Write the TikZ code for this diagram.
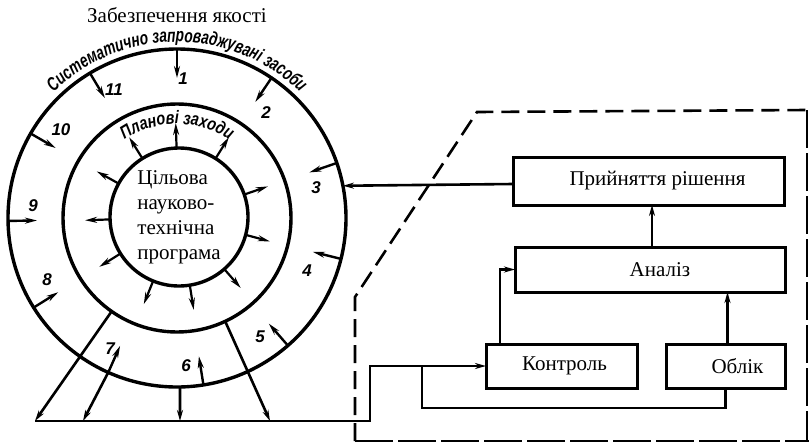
\documentclass[tikz,border=0pt]{standalone}
\usepackage{fontspec}
\setmainfont{Liberation Serif}
\newfontfamily\curvefont[FakeStretch=0.72]{Liberation Sans}
\newfontfamily\innerfont[FakeStretch=0.8]{Liberation Sans}
\newfontfamily\numfont{Liberation Sans}
\usetikzlibrary{arrows.meta,calc,decorations.text}
\begin{document}
\begin{tikzpicture}[x=1pt,y=1pt,
  ring/.style={draw, circle, line width=3.4pt, inner sep=0pt, outer sep=0pt},
  box/.style={draw, line width=3pt, inner sep=0pt, outer sep=0pt, font=\fontsize{21}{25}\selectfont},
  conn/.style={line width=2.6pt},
  tip/.style={-{Stealth[length=11pt,width=6pt]}},
  numarrow/.style={line width=2.4pt, -{Stealth[length=12pt,width=6pt]}},
  inarrow/.style={line width=2.2pt, -{Stealth[length=12pt,width=6pt]}},
  num/.style={font=\numfont\bfseries\itshape\fontsize{17}{17}\selectfont, inner sep=0pt},
  dashA/.style={line width=2.6pt, dash pattern=on 18pt off 8pt},
  dashB/.style={line width=2.6pt, dash pattern=on 38pt off 5pt},
]
\useasboundingbox (0,0) rectangle (809,-445);
\coordinate (C) at (177,-218);
\coordinate (Ci) at (179,-217);
% circles
\node[ring, minimum size=338pt] (outer) at (C) {};
\node[ring, minimum size=228pt] (mid) at (C) {};
\node[ring, minimum size=138pt, align=left, font=\fontsize{21}{25}\selectfont] (prog) at (Ci) {Цільова\\науково-\\технічна\\програма};
% title
\node[anchor=base, font=\fontsize{21}{25}\selectfont] (title) at (177,-22) {Забезпечення якості};
% curved texts
\path[decorate, decoration={text along path, text align=center,
  text={|\curvefont\bfseries\itshape\fontsize{19}{19}\selectfont|Систематично запроваджувані засоби}}]
  ($(C)+(165:176)$) arc[start angle=165, end angle=15, radius=176];
\path[decorate, decoration={text along path, text align=center,
  text={|\innerfont\bfseries\itshape\fontsize{18}{18}\selectfont|Планові заходи}}]
  ($(C)+(155:94)$) arc[start angle=155, end angle=25, radius=94];
% numbered arrows in the outer ring
\foreach \a in {90,56,19,-14,-49,-81,-114,-148,181,150,121}
  \draw[numarrow] ($(C)+(\a:169)$) -- ($(C)+(\a:140)$);
\node[num] (n1) at (183,-79) {1};
\node[num] (n2) at (266,-113) {2};
\node[num] (n3) at (316,-188) {3};
\node[num] (n4) at (307,-271) {4};
\node[num] (n5) at (260,-337) {5};
\node[num] (n6) at (186,-366) {6};
\node[num] (n7) at (110,-349) {7};
\node[num] (n8) at (47,-280) {8};
\node[num] (n9) at (33,-206) {9};
\node[num] (n10) at (61,-130) {10};
\node[num] (n11) at (114,-90) {11};
% arrows of the inner ring
\foreach \a in {92,58,19,-15,-49,-81,-112,-148,182,151,122}
  \draw[inarrow] ($(Ci)+(\a:69)$) -- ($(Ci)+(\a:94)$);
% boxes
\node[box, minimum width=271pt, minimum height=48pt] (prin) at (648.5,-181) {\hspace*{18pt}Прийняття рішення};
\node[box, minimum width=270pt, minimum height=45pt] (anal) at (650,-269.5) {\hspace*{20pt}Аналіз};
\node[box, minimum width=151pt, minimum height=44pt] (kontr) at (561.5,-366) {\hspace*{6pt}Контроль};
\node[box, minimum width=119pt, minimum height=44pt] (oblik) at (725.5,-366) {\hspace*{24pt}Облік};
% base line coordinates
\coordinate (b1) at (35,-421);
\coordinate (b2) at (83,-421);
\coordinate (b3) at (180,-421);
\coordinate (b4) at (270,-421);
\coordinate (s1) at (370,-421);
\coordinate (j) at (422,-366);
% lines from circles down to the base line
\draw[conn,tip] (mid.-125) -- (b1);
\draw[conn,tip] (outer.-114) -- (b2);
\draw[conn,tip] (outer.-89) -- (b3);
\draw[conn,tip] (mid.-65) -- (b4);
% base line to Контроль
\draw[conn,tip] (b1) -- (s1) |- (kontr.west);
\draw[conn] (oblik.south) -- ++(0,-20) -| (j);
% box connectors
\draw[conn,tip] ($(kontr.north west)+(14,0)$) |- (anal.west);
\draw[conn,tip] ($(oblik.north)+(2,0)$) -- ($(oblik.north |- anal.south)+(2,0)$);
\draw[line width=1.6pt,tip] ($(anal.north)+(2,0)$) -- ($(anal.north |- prin.south)+(2,0)$);
\draw[conn,tip] ($(prin.west)+(0,-3)$) -- (outer.11.6);
% dashed frame
\draw[dashA] (355,-441) -- (355,-297) -- (477,-112) -- (807,-110);
\draw[dashB] (807,-110) -- (807,-441);
\draw[dashB] (355,-441) -- (809,-441);
\end{tikzpicture}
\end{document}
